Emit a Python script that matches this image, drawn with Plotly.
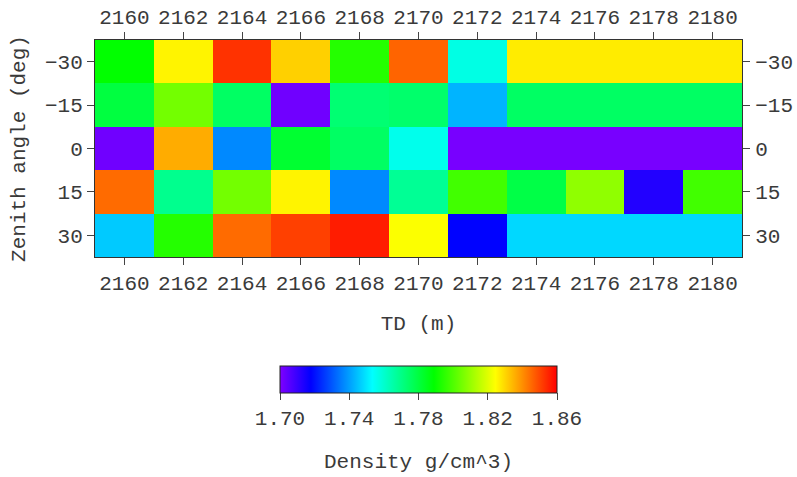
import colorsys
import plotly.graph_objects as go

td = [2160, 2162, 2164, 2166, 2168, 2170, 2172, 2174, 2176, 2178, 2180]
zenith = [-30, -15, 0, 15, 30]
density = [
    [1.789, 1.826, 1.853, 1.831, 1.794, 1.846, 1.757, 1.827, 1.827, 1.827, 1.827],
    [1.780, 1.805, 1.775, 1.702, 1.773, 1.774, 1.743, 1.775, 1.775, 1.775, 1.775],
    [1.702, 1.836, 1.737, 1.782, 1.775, 1.756, 1.701, 1.701, 1.701, 1.701, 1.701],
    [1.845, 1.769, 1.805, 1.826, 1.737, 1.768, 1.798, 1.779, 1.809, 1.713, 1.798],
    [1.746, 1.794, 1.845, 1.851, 1.856, 1.824, 1.718, 1.748, 1.748, 1.748, 1.748],
]
cb_ticks = [1.70, 1.74, 1.78, 1.82, 1.86]

# rainbow: hue 270 (purple) -> 0 (red)
scale = []
n = 27
for i in range(n + 1):
    t = i / n
    r, g, b = colorsys.hsv_to_rgb((270 - 270 * t) / 360.0, 1, 1)
    scale.append([t, f"rgb({int(r*255)},{int(g*255)},{int(b*255)})"])

FONT = "Courier New, Liberation Mono, monospace"
FS = 21
fc = "#3a3a3a"

fig = go.Figure()
fig.add_trace(go.Heatmap(
    x=td, y=zenith, z=density, colorscale=scale, zmin=1.70, zmax=1.86,
    colorbar=dict(
        orientation="h", x=0.5, xanchor="center", y=-0.502, yanchor="top",
        len=0.428, lenmode="fraction", thickness=27, xpad=0, ypad=0,
        outlinewidth=1, outlinecolor="#222222",
        tickvals=cb_ticks, ticktext=[f"{v:.2f}" for v in cb_ticks],
        ticks="outside", ticklen=7, tickcolor="#444",
        tickfont=dict(family=FONT, size=FS, color=fc),
    ),
    hoverongaps=False,
))
# invisible trace to carry the mirrored axes
fig.add_trace(go.Scatter(x=[td[0]], y=[zenith[0]], xaxis="x2", yaxis="y2",
                         mode="markers", marker=dict(opacity=0), showlegend=False,
                         hoverinfo="skip"))

tick_x = dict(tickvals=td, ticks="outside", ticklen=7, tickcolor="#444",
              tickfont=dict(family=FONT, size=FS, color=fc), automargin=False,
              range=[2159, 2181], showgrid=False, zeroline=False)
tick_y = dict(tickvals=zenith, ticks="outside", ticklen=7, tickcolor="#444",
              tickfont=dict(family=FONT, size=FS, color=fc), automargin=False,
              range=[37.5, -37.5], showgrid=False, zeroline=False)

fig.update_layout(
    width=797, height=477,
    margin=dict(l=95, r=55, t=40, b=220, autoexpand=False),
    paper_bgcolor="white", plot_bgcolor="white",
    font=dict(family=FONT, size=FS, color=fc),
    xaxis=dict(**tick_x, showline=True, linecolor="#333", linewidth=1, mirror=True,
               title=dict(text="TD (m)", font=dict(family=FONT, size=FS, color=fc), standoff=20)),
    yaxis=dict(**tick_y, showline=True, linecolor="#333", linewidth=1, mirror=True,
               title=dict(text="Zenith angle (deg)", font=dict(family=FONT, size=FS, color=fc), standoff=13)),
    xaxis2=dict(**tick_x, overlaying="x", side="top", matches="x"),
    yaxis2=dict(**tick_y, overlaying="y", side="right", matches="y", ticklabelstandoff=1),
    annotations=[dict(text="Density g/cm^3)", xref="paper", yref="paper",
                      x=0.5, y=-0.949, xanchor="center", yanchor="middle",
                      showarrow=False, font=dict(family=FONT, size=FS, color=fc))],
)

fig.write_html("out.html", config={"displayModeBar": False},
               post_script="document.body.style.margin='0';document.body.style.overflow='hidden';")
